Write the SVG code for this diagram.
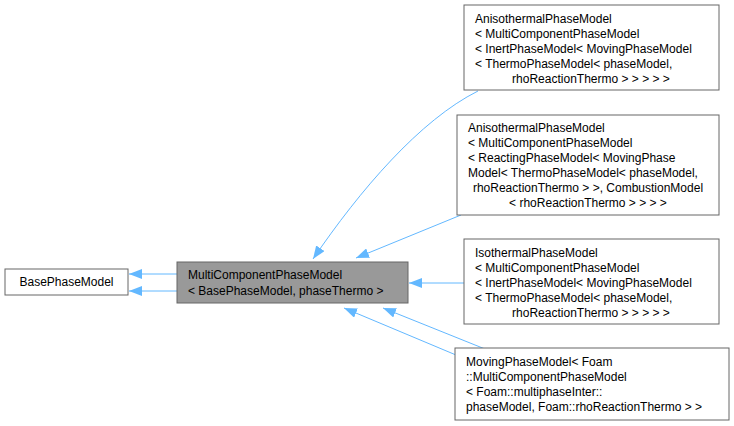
<svg xmlns="http://www.w3.org/2000/svg" width="734" height="426" viewBox="0 0 734 426">
<style>
text{font-family:"Liberation Sans",Arial,sans-serif;font-size:12px;fill:#000}
.n{fill:#fff;stroke:#666;stroke-width:1}
.e{fill:none;stroke:#63b8ff;stroke-width:1}
</style>
<defs><marker id="a" markerWidth="14" markerHeight="10" refX="13" refY="5" orient="auto" markerUnits="userSpaceOnUse"><path d="M0,0 L13,5 L0,10 z" fill="#63b8ff"/></marker></defs>
<rect width="734" height="426" fill="#fff"/>
<g id="edges">
<path class="e" d="M177,274 H129" marker-end="url(#a)"/>
<path class="e" d="M177,291 H129" marker-end="url(#a)"/>
<path class="e" d="M478,91 C420,120 360,190 313,259" marker-end="url(#a)"/>
<path class="e" d="M461,215 L356,258" marker-end="url(#a)"/>
<path class="e" d="M464,283 H409" marker-end="url(#a)"/>
<path class="e" d="M485,349 L383,308" marker-end="url(#a)"/>
<path class="e" d="M456,355 L344,308" marker-end="url(#a)"/>
</g>
<g id="n0"><rect class="n" x="5" y="269" width="123" height="26"/><text x="66.5" y="286" text-anchor="middle">BasePhaseModel</text></g>
<g id="n1"><rect x="177" y="262" width="231" height="41" fill="#999" stroke="#666"/><text x="188" y="279">MultiComponentPhaseModel</text><text x="188" y="295">&lt; BasePhaseModel, phaseThermo &gt;</text></g>
<g id="n2"><rect class="n" x="464" y="5" width="255" height="85"/>
<text x="475" y="23">AnisothermalPhaseModel</text><text x="475" y="38">&lt; MultiComponentPhaseModel</text><text x="475" y="53">&lt; InertPhaseModel&lt; MovingPhaseModel</text><text x="475" y="68">&lt; ThermoPhaseModel&lt; phaseModel,</text><text x="591" y="83" text-anchor="middle">rhoReactionThermo &gt; &gt; &gt; &gt; &gt;</text></g>
<g id="n3"><rect class="n" x="457" y="115" width="262" height="100"/>
<text x="468" y="132">AnisothermalPhaseModel</text><text x="468" y="147">&lt; MultiComponentPhaseModel</text><text x="468" y="162">&lt; ReactingPhaseModel&lt; MovingPhase</text><text x="468" y="177">Model&lt; ThermoPhaseModel&lt; phaseModel,</text><text x="588" y="192" text-anchor="middle">rhoReactionThermo &gt; &gt;, CombustionModel</text><text x="588" y="207" text-anchor="middle">&lt; rhoReactionThermo &gt; &gt; &gt; &gt;</text></g>
<g id="n4"><rect class="n" x="464" y="239" width="255" height="85"/>
<text x="475" y="257">IsothermalPhaseModel</text><text x="475" y="272">&lt; MultiComponentPhaseModel</text><text x="475" y="287">&lt; InertPhaseModel&lt; MovingPhaseModel</text><text x="475" y="302">&lt; ThermoPhaseModel&lt; phaseModel,</text><text x="591" y="317" text-anchor="middle">rhoReactionThermo &gt; &gt; &gt; &gt; &gt;</text></g>
<g id="n5"><rect class="n" x="455" y="348" width="274" height="72"/>
<text x="466" y="366">MovingPhaseModel&lt; Foam</text><text x="466" y="381">::MultiComponentPhaseModel</text><text x="466" y="396">&lt; Foam::multiphaseInter::</text><text x="466" y="411">phaseModel, Foam::rhoReactionThermo &gt; &gt;</text></g>
</svg>
